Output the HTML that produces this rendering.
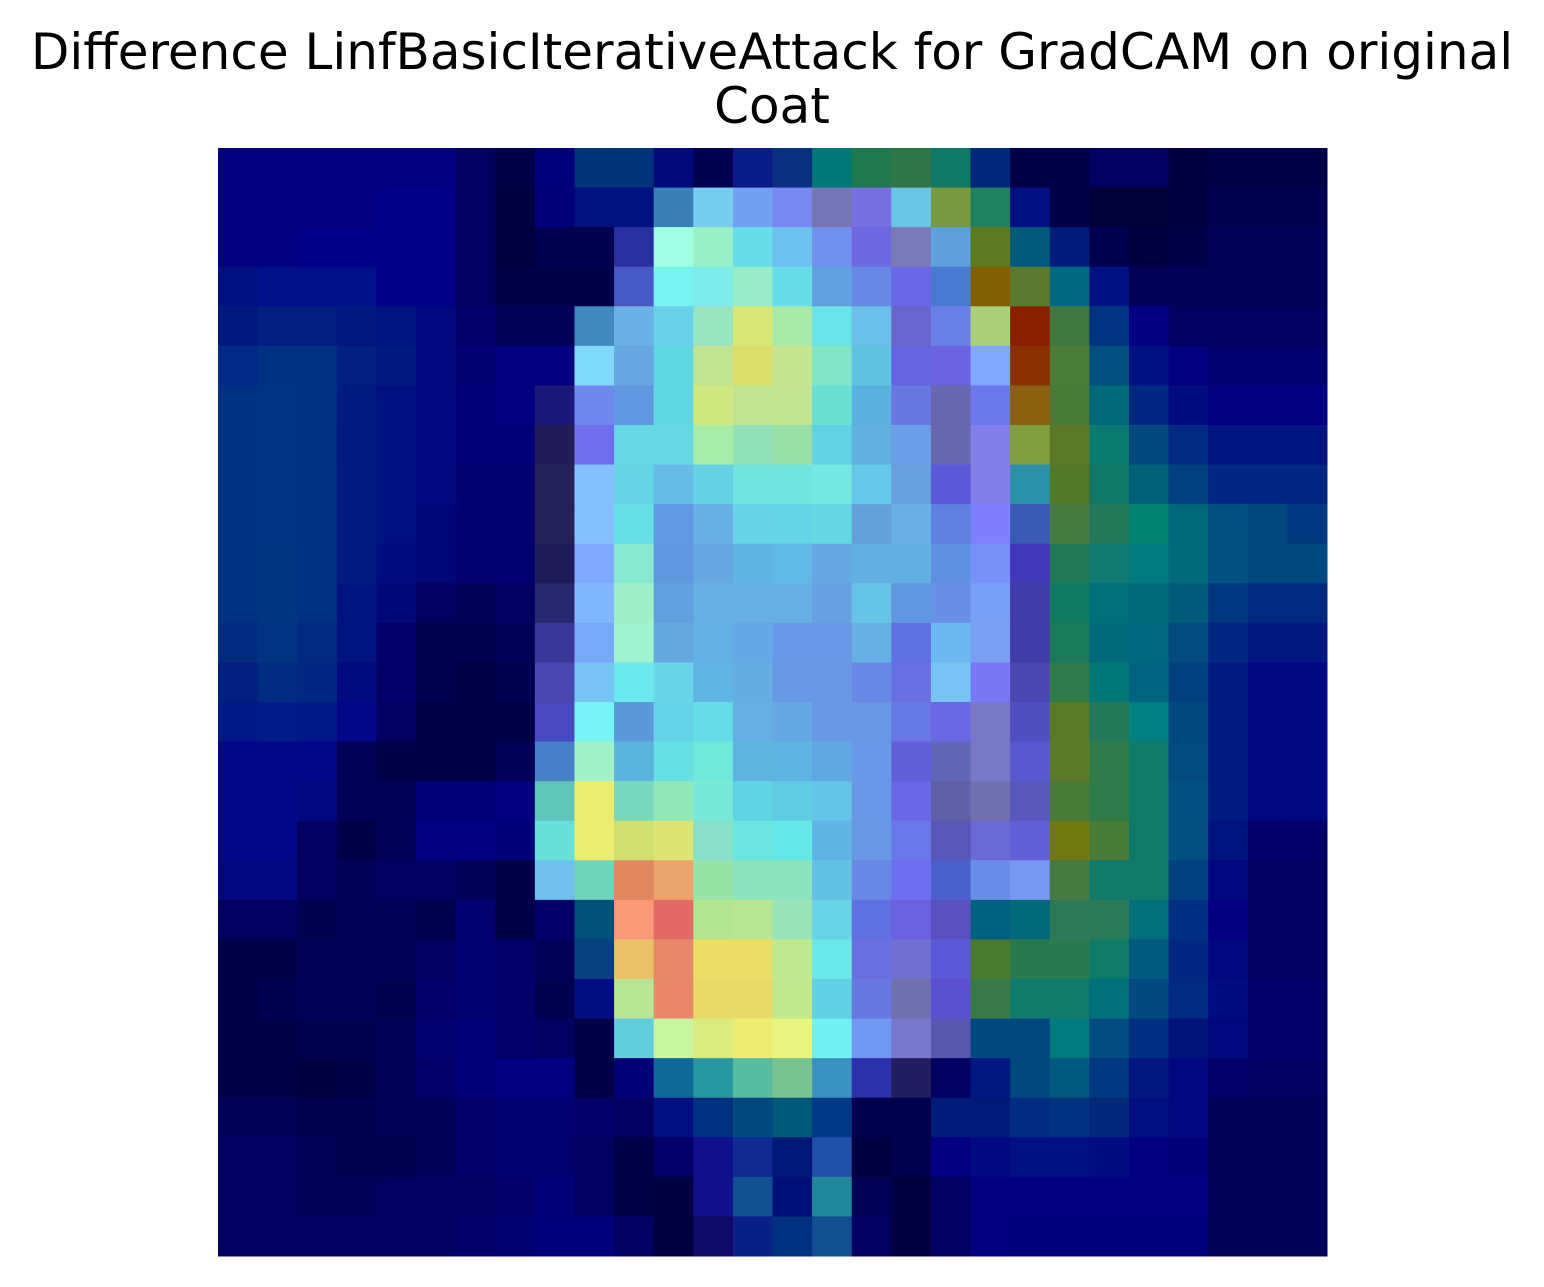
<!DOCTYPE html>
<html><head><meta charset="utf-8"><style>
html,body{margin:0;padding:0;background:#fff;}
body{width:1544px;height:1287px;position:relative;overflow:hidden;font-family:"DejaVu Sans","Liberation Sans",sans-serif;}
.t{position:absolute;left:0;width:1544px;text-align:center;font-size:50px;line-height:58px;color:#000;white-space:nowrap;}
</style></head><body>
<div class="t" style="top:23px">Difference LinfBasicIterativeAttack for GradCAM on original</div>
<div class="t" style="top:77px">Coat</div>
<svg id="hm" width="1544" height="1287" style="position:absolute;left:0;top:0"></svg>
<script>
const rowsTop = [
["000080","000080","000080","000080","000080","000080","000060","000048","00007a","00337a","00337a","000a78","000050","0a1a88","0a3080","007878","207850","307545","107868","002878","000048","000048","000060","000060","000040","000048","000048","000048"],
["000080","000080","000080","000080","000088","000088","000060","000040","000078","001280","001280","3a80b8","78ccf0","70a0ee","7888f0","7575b8","7870e0","6ac4e6","789a40","208060","001080","000048","000038","000038","000040","000050","000050","000050"],
["000080","000080","000088","000088","000088","000088","000060","000040","000050","000050","2830a0","a0ffe0","98f0c8","68dce8","6ec0ee","7090ee","6e68e0","7a7ab8","5ea0dc","5c7a20","005a7a","001c7a","000050","000040","000048","000058","000058","000058"],
["001080","00108a","00108a","00108a","000088","000088","000060","000048","000048","000048","4858c4","78f4f0","7eece8","98ecc8","68dce8","60a0e0","6888e6","6a68e6","4a7ad0","806000","5a7a30","006880","001080","000058","000058","000058","000058","000058"],
["001880","002080","002080","001880","001480","000880","000068","000058","000058","4088c0","6cb0e8","68d0e8","98e4c0","d8e878","a8e8a8","68e4e8","6cbfea","6866cc","6a80e8","aad078","882000","3e7840","003480","000080","000060","000060","000060","000060"],
["002a88","003080","003080","002080","001880","000880","000070","000080","000080","80d8fa","66a8e4","60d8e4","c0e490","dade6a","c4e490","84e4c8","60c4e0","6464e0","6a62e0","80a8ff","883000","4a7c38","005080","001080","000080","000070","000070","000070"],
["003080","003480","003080","001c80","001080","000880","000078","000080","1a1878","7088ee","6098e0","60d8e4","d0e880","c0e490","c0e490","6ae0d4","5cb0e0","6878e0","6868b0","6c78ec","8a6010","4a7a38","006a7a","002880","000c80","000080","000080","000080"],
["003080","003480","003080","001a80","001080","000880","000078","000078","221c58","7070ee","66d8e6","66d8e6","a8ecaa","90e0b8","98e0a8","62d2e2","60b0e0","6a9ee6","6868b0","8080e8","80a040","5a7a28","0a7a70","004880","002a80","001480","001480","001480"],
["003080","003480","003080","001c80","001080","000880","000070","000070","24205a","84c0ff","66d4e4","66bce6","66d0e4","70e4dc","70e4dc","74e8e0","66c8e8","68a0e2","5a5ad8","8080e8","2a90a8","507828","107868","006078","004080","002880","002880","002880"],
["003080","003480","003080","001c80","001080","000878","000070","000070","24205a","84c0ff","66e0e4","6098e2","66b0e6","66d4e6","64d4e6","66d8e4","64a0dc","68b0e6","6080e0","8080ff","3a5ab4","467a40","207a5a","008070","006878","005080","004880","003880"],
["003280","003680","003080","001c80","000c80","000878","000070","000070","201c58","80a8ff","88e8d0","6098e0","66a8e4","60b4e4","60b8e4","66a8e4","60b0e4","60b0e4","6090e0","7890f8","4038b8","207a58","107a70","007a7a","006a7a","005080","004880","004880"],
["003280","003680","003080","001480","000878","000060","000058","000060","282870","80b8ff","9ef0c8","60a0e0","66b0e6","66b0e6","66b0e6","68a0e6","66c4e6","6098e0","6a90e6","78a0f4","403ca8","107a60","007078","006a7a","005a7a","003880","002a80","002a80"],
["002c80","003480","002a80","001480","000068","000050","000050","000058","383898","78a8f8","9ef4d0","64a8e0","62b0e6","64a8e8","6898e6","6898e6","66b0e6","6070e0","6cb8f0","7aa0f4","403ca8","1a7a5a","006a7a","006880","004a80","002880","001880","001880"],
["002080","002c80","002880","000c80","000068","000050","000048","000050","4848b0","78c4f4","6ae8ec","6ad4e8","62b4e4","64ace4","6898e4","6898e4","6888e4","6870e4","78c4f4","7878f4","4848b0","2e7a48","007878","006480","004080","001c80","000880","000880"]
];
const rowsBottom = [
["001888","001c88","001888","000888","000060","000048","000048","000048","4848c0","78f4f4","5c98dc","66d4e8","66dce6","64b0e4","64a8e4","6898e4","6898e4","6878e4","6868e4","7878c8","5050c0","5a7a28","207a5a","008080","004880","001c80","000880","000880"],
["000888","000888","000888","000058","000048","000048","000048","000058","4880c8","a0f0c8","5cb4dc","66e0e0","70e8dc","60b4e0","60b4e4","60a8e4","6898e6","6060d8","6066b8","7878c8","5858d0","5a7a28","2e7a48","107a6a","004a80","001c80","000880","000880"],
["000888","000888","000880","000058","000058","000078","000078","000080","60c4b8","ecec70","78d8c0","90e8b8","78e8d8","60d4e4","60cce4","64c4e6","6898e6","6868e6","6060a8","7070b0","5858b8","4a7a38","2e7a48","107a6a","005080","001c80","000880","000880"],
["000888","000888","000060","000048","000058","000080","000080","000078","68e0d8","ecec70","d0e070","dce474","88e0c8","6ae4dc","64e8e6","60b4e4","6898e4","6a78ec","5858b8","6a6ad4","6060d8","707a10","4a7a38","107a6a","005080","001480","000068","000068"],
["000880","000880","000060","000058","000060","000060","000058","000048","70c0ee","70d4b8","e08860","eaa46c","98e4a8","8ae4c0","8ae4c0","64c0e4","6888e4","6e6ef0","4c60cc","6a8ee8","7898f0","467a40","107a6a","107a6a","004080","000880","000060","000060"],
["000060","000060","000050","000058","000058","000050","000070","000048","000068","005078","f89a78","e46a68","b4e490","b8e494","98e4b8","68d4e6","6070e0","6a60e0","5a50c0","006080","006a7a","2e7a58","2a7a5a","007078","002e80","000080","000060","000060"],
["000048","000048","000058","000058","000058","000060","000070","000068","000058","084080","eac068","e8886a","e8de68","e8de68","c0e890","6ae8e8","6870e0","7070d0","5a5ad8","4a7a30","2a7a50","2a7a50","107a6a","005a80","002880","000880","000060","000060"],
["000048","000050","000058","000058","000050","000068","000070","000068","000050","000e80","b8e494","e88868","e8da68","e8da68","c0e88c","60d0e4","6878e0","7070b0","5a50d0","3a7848","107a6a","107a6a","00707a","004880","002a80","000c80","000068","000068"],
["000048","000048","000050","000050","000058","000070","000078","000068","000060","000048","60ccdc","c8f4a0","daec80","eeec70","e8f480","70f0f0","7098f0","7878d0","5858b0","004880","004880","007a7a","004c80","002e80","001478","000880","000068","000068"],
["000048","000048","000040","000048","000058","000068","000078","000080","000080","000048","000078","106898","2898a0","58bca0","78c490","3a90c0","2a30a8","201e60","000060","001880","004880","005a80","003880","001880","000880","000068","000060","000060"],
["000058","000058","000050","000050","000058","000058","000068","000070","000070","000068","000060","001080","003080","004880","005878","003888","000050","000050","001c78","001a78","002c80","003280","002878","001080","000880","000058","000058","000058"],
["000060","000060","000058","000050","000050","000058","000068","000070","000070","000060","000048","000068","10108a","102890","001878","2050a8","000040","000050","000080","000a80","001080","001080","000c80","000080","000078","000058","000058","000058"],
["000060","000060","000058","000058","000060","000060","000060","000068","000078","000060","000048","000040","10108a","105090","001078","20889a","000058","000040","000060","000080","000080","000080","000080","000080","000080","000058","000058","000058"],
["000060","000060","000060","000060","000060","000060","000068","000070","00007a","00007a","000060","000040","100a68","0a2088","003080","105090","000060","000040","000060","000080","00007a","00007a","00007a","00007a","00007a","000058","000058","000058"]
];
const cellColors = rowsTop.concat(rowsBottom);
const X0 = 218, Y0 = 148, W = 1109, H = 1108;
const nCols = 28, nRows = 28;
function xScale(c){ return X0 + c * W / nCols; }
function yScale(r){ return Y0 + r * H / nRows; }
const svg = document.getElementById('hm');
const NS = 'http://www.w3.org/2000/svg';
for (let r = 0; r < cellColors.length; r++) {
  for (let c = 0; c < cellColors[r].length; c++) {
    const rect = document.createElementNS(NS, 'rect');
    const x = xScale(c), y = yScale(r);
    rect.setAttribute('x', x);
    rect.setAttribute('y', y);
    rect.setAttribute('width', xScale(c + 1) - x + 0.5);
    rect.setAttribute('height', yScale(r + 1) - y + 0.5);
    rect.setAttribute('fill', '#' + cellColors[r][c]);
    
    
    svg.appendChild(rect);
  }
}
</script>
</body></html>
